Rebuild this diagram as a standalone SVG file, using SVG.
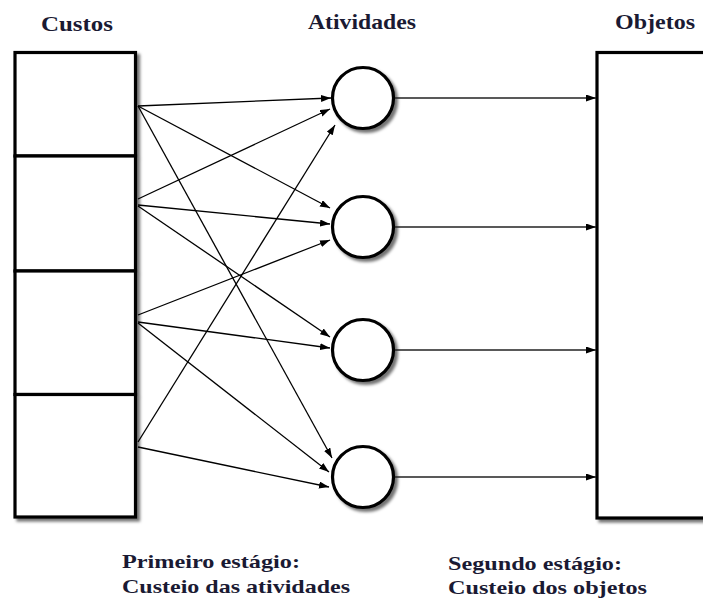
<svg xmlns="http://www.w3.org/2000/svg" width="703" height="601" viewBox="0 0 703 601">
  <defs>
    <filter id="shadow" x="-20%" y="-20%" width="140%" height="140%">
      <feDropShadow dx="3" dy="3" stdDeviation="1.6" flood-color="#000" flood-opacity="0.55"/>
    </filter>
    <marker id="arrow" markerUnits="userSpaceOnUse" markerWidth="11" markerHeight="8" refX="10" refY="3.5" orient="auto">
      <path d="M0,0 L10,3.5 L0,7 z" fill="#000"/>
    </marker>
  </defs>
  <style>
    .box { fill: #fff; stroke: #000; stroke-width: 3.2; }
    .node { fill: #fff; stroke: #000; stroke-width: 3.2; }
    .edge { stroke: #000; stroke-width: 1.3; fill: none; marker-end: url(#arrow); }
    .out { stroke: #222; stroke-width: 1.6; fill: none; marker-end: url(#arrow); }
    .title { font-family: "Liberation Serif", "Times New Roman", serif; font-weight: bold; font-size: 22px; fill: #1a1a33; }
    .caption { font-family: "Liberation Serif", "Times New Roman", serif; font-weight: bold; font-size: 19px; fill: #1a1a33; }
  </style>
  <rect width="703" height="601" fill="#fff"/>

  <!-- Titles -->
  <g id="titles">
    <text class="title" x="41" y="31" textLength="72" lengthAdjust="spacingAndGlyphs">Custos</text>
    <text class="title" x="308" y="29" textLength="108" lengthAdjust="spacingAndGlyphs">Atividades</text>
    <text class="title" x="615" y="29" textLength="80" lengthAdjust="spacingAndGlyphs">Objetos</text>
  </g>

  <!-- Cost boxes -->
  <g id="custos" filter="url(#shadow)">
    <g id="custo1"><rect class="box" x="15" y="52.5" width="120.5" height="103.5"/></g>
    <g id="custo2"><rect class="box" x="15" y="156" width="120.5" height="115"/></g>
    <g id="custo3"><rect class="box" x="15" y="271" width="120.5" height="123.5"/></g>
    <g id="custo4"><rect class="box" x="15" y="394.5" width="120.5" height="122.5"/></g>
  </g>

  <!-- Activities -->
  <g id="atividades" filter="url(#shadow)">
    <g id="atividade1"><circle class="node" cx="363" cy="98" r="30.5"/></g>
    <g id="atividade2"><circle class="node" cx="363" cy="227" r="30.5"/></g>
    <g id="atividade3"><circle class="node" cx="363" cy="350" r="30.5"/></g>
    <g id="atividade4"><circle class="node" cx="363" cy="477" r="30.5"/></g>
  </g>

  <!-- Objects -->
  <g id="objetos" filter="url(#shadow)">
    <rect class="box" x="597" y="52.5" width="120" height="465.5"/>
  </g>

  <!-- Connectors -->
  <g id="connectors">
    <line class="edge" x1="138" y1="106" x2="331" y2="98"/>
    <line class="edge" x1="138" y1="106" x2="330" y2="208"/>
    <line class="edge" x1="138" y1="106" x2="332" y2="458"/>
    <line class="edge" x1="138" y1="199" x2="330" y2="109"/>
    <line class="edge" x1="138" y1="205" x2="330" y2="224"/>
    <line class="edge" x1="138" y1="206" x2="330" y2="337"/>
    <line class="edge" x1="138" y1="315" x2="330" y2="240"/>
    <line class="edge" x1="138" y1="322" x2="330" y2="348"/>
    <line class="edge" x1="138" y1="323" x2="329" y2="472"/>
    <line class="edge" x1="138" y1="442" x2="335" y2="125"/>
    <line class="edge" x1="138" y1="447" x2="329" y2="487"/>
    <line class="out" x1="395" y1="98" x2="596" y2="98"/>
    <line class="out" x1="395" y1="227" x2="596" y2="227"/>
    <line class="out" x1="395" y1="350" x2="596" y2="350"/>
    <line class="out" x1="395" y1="477" x2="596" y2="477"/>
  </g>

  <!-- Captions -->
  <g id="legendas">
    <text class="caption" x="122" y="568" textLength="178" lengthAdjust="spacingAndGlyphs">Primeiro estágio:</text>
    <text class="caption" x="122" y="593" textLength="228" lengthAdjust="spacingAndGlyphs">Custeio das atividades</text>
    <text class="caption" x="448" y="570" textLength="174" lengthAdjust="spacingAndGlyphs">Segundo estágio:</text>
    <text class="caption" x="448" y="594" textLength="199" lengthAdjust="spacingAndGlyphs">Custeio dos objetos</text>
  </g>
</svg>
